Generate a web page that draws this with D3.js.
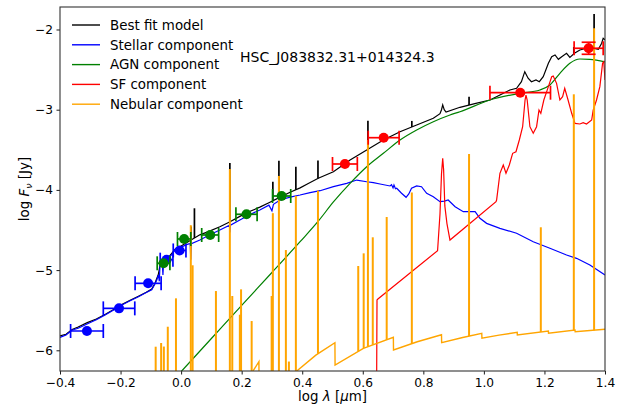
<!DOCTYPE html>
<html>
<head>
<meta charset="utf-8">
<script src="https://cdn.jsdelivr.net/npm/d3@7"></script>
<style>
  body { margin: 0; background: #fff; }
  svg { display: block; font-family: "DejaVu Sans", sans-serif; }
</style>
</head>
<body>
<div id="chart"></div>
<script>
// global constants
const WIDTH = 636;
const HEIGHT = 410;
const MARGIN = { top: 7, right: 31, bottom: 39, left: 60 };
const PLOT_W = WIDTH - MARGIN.left - MARGIN.right;
const PLOT_H = HEIGHT - MARGIN.top - MARGIN.bottom;

const X_DOMAIN = [-0.4, 1.4];
const Y_DOMAIN = [-6.258, -1.7195];
const X_TICKS = [-0.4, -0.2, 0.0, 0.2, 0.4, 0.6, 0.8, 1.0, 1.2, 1.4];
const Y_TICKS = [-6, -5, -4, -3, -2];
const OBJECT_NAME = "HSC_J083832.31+014324.3";

const LEGEND = [
  { label: "Best fit model", color: "#000000" },
  { label: "Stellar component", color: "#0000ff" },
  { label: "AGN component", color: "#008000" },
  { label: "SF component", color: "#ff0000" },
  { label: "Nebular component", color: "#ffa500" },
];

// best fit model continuum [log lambda, log Fnu]
const bestFit = [
  [-0.40, -5.82], [-0.38, -5.80], [-0.36, -5.74], [-0.34, -5.71], [-0.31, -5.655],
  [-0.28, -5.61], [-0.25, -5.55], [-0.22, -5.485], [-0.196, -5.43], [-0.17, -5.38],
  [-0.141, -5.325], [-0.115, -5.275], [-0.097, -5.235], [-0.086, -5.16], [-0.075, -5.05],
  [-0.07, -4.95], [-0.053, -4.88], [-0.037, -4.82], [-0.02, -4.74], [0.0, -4.70],
  [0.03, -4.63], [0.062, -4.56], [0.09, -4.52], [0.128, -4.46], [0.16, -4.40],
  [0.194, -4.33], [0.226, -4.27], [0.26, -4.215], [0.29, -4.16], [0.327, -4.09],
  [0.36, -4.03], [0.393, -3.975], [0.42, -3.92], [0.453, -3.855], [0.503, -3.773],
  [0.558, -3.627], [0.613, -3.502], [0.668, -3.378], [0.723, -3.274], [0.778, -3.191],
  [0.833, -3.107], [0.855, -3.05], [0.860, -3.0], [0.864, -2.94], [0.869, -3.0],
  [0.875, -3.03], [0.921, -2.97], [0.97, -2.925], [1.02, -2.879], [1.053, -2.817],
  [1.086, -2.754], [1.108, -2.733], [1.124, -2.651], [1.135, -2.526], [1.146, -2.608],
  [1.157, -2.651], [1.172, -2.63], [1.183, -2.651], [1.196, -2.589], [1.213, -2.421],
  [1.224, -2.339], [1.235, -2.318], [1.246, -2.372], [1.257, -2.339], [1.273, -2.297],
  [1.284, -2.347], [1.299, -2.297], [1.317, -2.256], [1.339, -2.234], [1.361, -2.234],
  [1.378, -2.247], [1.389, -2.172], [1.394, -2.11], [1.40, -2.13],
];

// emission line peaks seen on the best fit model [log lambda, peak]
const bestFitSpikes = [
  [0.033, -4.455], [0.044, -4.229], [0.161, -3.665], [0.303, -3.898], [0.323, -3.636],
  [0.379, -3.711], [0.452, -3.633], [0.617, -3.137], [0.762, -3.14], [0.951, -2.838],
  [1.297, -2.218], [1.364, -1.807],
];

// stellar component
const stellar = [
  [-0.40, -5.84], [-0.394, -5.83], [-0.38, -5.81], [-0.361, -5.75], [-0.34, -5.725],
  [-0.307, -5.665], [-0.28, -5.62], [-0.251, -5.56], [-0.22, -5.49], [-0.196, -5.435],
  [-0.17, -5.385], [-0.141, -5.332], [-0.115, -5.28], [-0.097, -5.245], [-0.086, -5.17],
  [-0.08, -5.12], [-0.075, -5.06], [-0.072, -5.14], [-0.070, -4.96], [-0.062, -4.93],
  [-0.060, -5.06], [-0.058, -4.91], [-0.053, -4.895], [-0.037, -4.835], [-0.020, -4.75],
  [0.002, -4.71], [0.020, -4.68], [0.030, -4.67], [0.032, -4.87], [0.034, -4.67],
  [0.062, -4.625], [0.095, -4.56], [0.128, -4.50], [0.160, -4.44], [0.161, -4.53],
  [0.163, -4.44], [0.194, -4.375], [0.226, -4.31], [0.26, -4.25], [0.29, -4.19],
  [0.30, -4.26], [0.305, -4.18], [0.327, -4.126], [0.36, -4.09], [0.393, -4.064],
  [0.426, -4.035], [0.459, -4.01], [0.503, -3.96], [0.547, -3.918], [0.580, -3.877],
  [0.613, -3.898], [0.635, -3.91], [0.657, -3.926], [0.690, -3.951], [0.695, -3.935],
  [0.700, -3.975], [0.703, -3.94], [0.708, -3.985], [0.712, -3.98], [0.728, -4.042],
  [0.743, -4.092], [0.752, -4.05], [0.761, -3.98], [0.778, -3.951], [0.794, -3.96],
  [0.811, -4.042], [0.833, -4.085], [0.855, -4.147], [0.870, -4.14], [0.882, -4.126],
  [0.905, -4.21], [0.932, -4.272], [0.971, -4.272], [0.987, -4.354], [1.009, -4.417],
  [1.053, -4.479], [1.108, -4.541], [1.163, -4.646], [1.218, -4.728], [1.273, -4.812],
  [1.306, -4.853], [1.350, -4.936], [1.40, -5.061],
];

// AGN component
const agn = [
  [-0.02, -6.35], [0.002, -6.258], [0.10, -5.853], [0.20, -5.44], [0.30, -5.03],
  [0.393, -4.646], [0.453, -4.39], [0.503, -4.15], [0.558, -3.918], [0.613, -3.711],
  [0.668, -3.544], [0.723, -3.378], [0.778, -3.253], [0.833, -3.150], [0.888, -3.066],
  [0.921, -3.025], [1.020, -2.879], [1.119, -2.796], [1.185, -2.754], [1.218, -2.692],
  [1.251, -2.546], [1.284, -2.421], [1.317, -2.368], [1.350, -2.372], [1.40, -2.405],
];

// star-forming (dust) component
const sf = [
  [0.645, -7.0], [0.647, -5.372], [0.650, -5.36], [0.847, -4.758], [0.855, -4.3],
  [0.860, -3.8], [0.864, -3.606], [0.867, -3.75], [0.871, -4.2], [0.878, -4.42],
  [0.888, -4.625], [1.040, -4.147], [1.042, -4.126], [1.053, -3.793], [1.064, -3.690],
  [1.073, -3.793], [1.084, -3.690], [1.095, -3.544], [1.106, -3.524], [1.117, -3.378],
  [1.128, -3.212], [1.136, -2.879], [1.139, -2.817], [1.143, -2.879], [1.152, -3.212],
  [1.163, -3.294], [1.174, -3.212], [1.182, -3.004], [1.188, -3.045], [1.198, -2.879],
  [1.213, -2.713], [1.224, -2.589], [1.229, -2.580], [1.240, -2.671], [1.251, -2.879],
  [1.260, -2.838], [1.267, -2.733], [1.278, -2.879], [1.290, -3.045], [1.301, -3.170],
  [1.317, -3.178], [1.328, -3.162], [1.339, -3.178], [1.356, -3.128], [1.361, -3.004],
  [1.372, -2.879], [1.383, -2.713], [1.392, -2.421], [1.396, -2.401], [1.40, -2.63],
];

// nebular continuum
const nebularCont = [
  [0.18, -6.60], [0.257, -6.142], [0.2575, -6.60], [0.382, -6.258], [0.445, -6.06],
  [0.508, -5.905], [0.5085, -6.183], [0.602, -5.975], [0.701, -5.838], [0.7015, -5.996],
  [0.78, -5.893], [0.860, -5.806], [0.8605, -5.905], [0.93, -5.84], [0.993, -5.788],
  [0.9935, -5.850], [1.05, -5.81], [1.110, -5.776], [1.1105, -5.809], [1.213, -5.759],
  [1.2135, -5.788], [1.301, -5.747], [1.3015, -5.768], [1.40, -5.738],
];

// nebular emission lines [log lambda, peak]
const nebularLines = [
  [-0.084, -5.955], [-0.066, -5.909], [-0.057, -5.953], [-0.044, -5.706], [-0.017, -5.352],
  [0.032, -4.44], [0.038, -4.94], [0.115, -5.261], [0.161, -3.74], [0.169, -5.323],
  [0.194, -5.556], [0.198, -5.24], [0.233, -5.635], [0.299, -5.323], [0.303, -4.29],
  [0.323, -3.826], [0.346, -4.75], [0.356, -6.14], [0.379, -4.076], [0.452, -4.01],
  [0.585, -4.949], [0.603, -4.791], [0.617, -3.378], [0.633, -4.591], [0.679, -4.338],
  [0.762, -4.032], [0.951, -3.552], [1.188, -4.466], [1.297, -2.808], [1.364, -1.985],
];

// photometry [log lambda, log Fnu, xerr, yerr]
const stellarPhot = [
  [-0.311, -5.759, 0.054, 0], [-0.205, -5.477, 0.052, 0], [-0.109, -5.165, 0.043, 0],
  [-0.048, -4.87, 0.021, 0], [-0.005, -4.755, 0.021, 0],
];
const agnPhot = [
  [-0.058, -4.915, 0.021, 0], [0.010, -4.612, 0.022, 0], [0.096, -4.562, 0.028, 0],
  [0.216, -4.304, 0.035, 0], [0.332, -4.076, 0.030, 0],
];
const sfPhot = [
  [0.541, -3.677, 0.041, 0], [0.669, -3.349, 0.051, 0], [1.120, -2.788, 0.100, 0],
  [1.346, -2.234, 0.048, 0.075],
];

const x = d3.scaleLinear().domain(X_DOMAIN).range([0, PLOT_W]);
const y = d3.scaleLinear().domain(Y_DOMAIN).range([PLOT_H, 0]);

// value of a curve at a given position, for the foot of a vertical line
function valueAt(curve, xv) {
  if (xv < curve[0][0] || xv > curve[curve.length - 1][0]) return Y_DOMAIN[0] - 0.5;
  for (let i = 0; i < curve.length - 1; i++) {
    const a = curve[i], b = curve[i + 1];
    if (xv >= a[0] && xv <= b[0]) {
      if (b[0] === a[0]) return Math.min(a[1], b[1]);
      return a[1] + (b[1] - a[1]) * (xv - a[0]) / (b[0] - a[0]);
    }
  }
  return Y_DOMAIN[0] - 0.5;
}

function render() {
  const svg = d3.select("#chart").append("svg")
    .attr("width", WIDTH)
    .attr("height", HEIGHT);

  svg.append("defs").append("clipPath").attr("id", "plotClip")
    .append("rect").attr("width", PLOT_W).attr("height", PLOT_H);

  const g = svg.append("g")
    .attr("transform", `translate(${MARGIN.left},${MARGIN.top})`);

  const plot = g.append("g").attr("clip-path", "url(#plotClip)");
  const line = d3.line().x((d) => x(d[0])).y((d) => y(d[1]));

  // best fit model with its line peaks
  plot.append("path").datum(bestFit)
    .attr("fill", "none").attr("stroke", "#000").attr("stroke-width", 1.2)
    .attr("d", line);
  plot.append("g").selectAll("line").data(bestFitSpikes).join("line")
    .attr("x1", (d) => x(d[0])).attr("x2", (d) => x(d[0]))
    .attr("y1", (d) => y(valueAt(bestFit, d[0])))
    .attr("y2", (d) => y(d[1]))
    .attr("stroke", "#000").attr("stroke-width", 1.7);

  plot.append("path").datum(stellar)
    .attr("fill", "none").attr("stroke", "#0000ff").attr("stroke-width", 1.2)
    .attr("d", line);

  plot.append("path").datum(agn)
    .attr("fill", "none").attr("stroke", "#008000").attr("stroke-width", 1.2)
    .attr("d", d3.line().x((d) => x(d[0])).y((d) => y(d[1])).curve(d3.curveMonotoneX));

  plot.append("path").datum(sf)
    .attr("fill", "none").attr("stroke", "#ff0000").attr("stroke-width", 1.2)
    .attr("d", line);

  // nebular continuum and lines
  plot.append("path").datum(nebularCont)
    .attr("fill", "none").attr("stroke", "#ffa500").attr("stroke-width", 1.4)
    .attr("d", line);
  plot.append("g").selectAll("line").data(nebularLines).join("line")
    .attr("x1", (d) => x(d[0])).attr("x2", (d) => x(d[0]))
    .attr("y1", (d) => y(valueAt(nebularCont, d[0])))
    .attr("y2", (d) => y(d[1]))
    .attr("stroke", "#ffa500").attr("stroke-width", 2);

  // photometry with error bars
  const CAP = 7;
  [[stellarPhot, "#0000ff"], [agnPhot, "#008000"], [sfPhot, "#ff0000"]].forEach(([pts, c]) => {
    const eg = plot.append("g").attr("stroke", c).attr("stroke-width", 1.7);
    pts.forEach((p) => {
      const cx = x(p[0]), cy = y(p[1]);
      const x0 = x(p[0] - p[2]), x1 = x(p[0] + p[2]);
      eg.append("line").attr("x1", x0).attr("x2", x1).attr("y1", cy).attr("y2", cy);
      eg.append("line").attr("x1", x0).attr("x2", x0).attr("y1", cy - CAP).attr("y2", cy + CAP);
      eg.append("line").attr("x1", x1).attr("x2", x1).attr("y1", cy - CAP).attr("y2", cy + CAP);
      if (p[3] > 0) {
        const y0 = y(p[1] - p[3]), y1 = y(p[1] + p[3]);
        eg.append("line").attr("x1", cx).attr("x2", cx).attr("y1", y0).attr("y2", y1);
        eg.append("line").attr("x1", cx - CAP).attr("x2", cx + CAP).attr("y1", y0).attr("y2", y0);
        eg.append("line").attr("x1", cx - CAP).attr("x2", cx + CAP).attr("y1", y1).attr("y2", y1);
      }
    });
    plot.append("g").selectAll("circle").data(pts).join("circle")
      .attr("cx", (d) => x(d[0])).attr("cy", (d) => y(d[1]))
      .attr("r", 5).attr("fill", c);
  });

  // axes
  const fmt = (d) => d3.format(".1f")(d).replace("-", "\u2212");
  const xAxis = g.append("g")
    .attr("transform", `translate(0,${PLOT_H})`)
    .call(d3.axisBottom(x).tickValues(X_TICKS).tickFormat(fmt).tickSize(3.5).tickPadding(3.5));
  const yAxis = g.append("g")
    .call(d3.axisLeft(y).tickValues(Y_TICKS).tickFormat((d) => String(d).replace("-", "\u2212")).tickSize(3.5).tickPadding(3.5));
  [xAxis, yAxis].forEach((a) => {
    a.select(".domain").remove();
    a.selectAll("text").attr("font-size", "12.2px").attr("font-family", "DejaVu Sans").attr("fill", "#000");
    a.selectAll("line").attr("stroke", "#000").attr("stroke-width", 0.9);
  });

  // frame
  g.append("rect")
    .attr("x", 0).attr("y", 0).attr("width", PLOT_W).attr("height", PLOT_H)
    .attr("fill", "none").attr("stroke", "#333").attr("stroke-width", 1.1);

  // axis labels
  const xl = g.append("text")
    .attr("x", PLOT_W / 2).attr("y", PLOT_H + 30)
    .attr("text-anchor", "middle").attr("font-size", "13.4px");
  xl.append("tspan").text("log ");
  xl.append("tspan").attr("font-style", "italic").text("\u03bb");
  xl.append("tspan").text(" [");
  xl.append("tspan").attr("font-style", "italic").text("\u03bc");
  xl.append("tspan").text("m]");

  const yl = g.append("text")
    .attr("transform", `translate(${-31},${PLOT_H / 2}) rotate(-90)`)
    .attr("text-anchor", "middle").attr("font-size", "13.4px");
  yl.append("tspan").text("log ");
  yl.append("tspan").attr("font-style", "italic").text("F");
  yl.append("tspan").attr("font-style", "italic").attr("font-size", "9.5px").attr("dy", 2.5).text("\u03bd");
  yl.append("tspan").attr("dy", -2.5).text(" [Jy]");

  // legend
  const lg = g.append("g").attr("transform", "translate(12,18)");
  LEGEND.forEach((d, i) => {
    const row = lg.append("g").attr("transform", `translate(0,${i * 19.8})`);
    row.append("line").attr("x1", 0).attr("x2", 28).attr("y1", 0).attr("y2", 0)
      .attr("stroke", d.color).attr("stroke-width", 1.4);
    row.append("text").attr("x", 38).attr("y", 0).attr("dy", "0.35em")
      .attr("font-size", "13.4px").text(d.label);
  });

  // object name
  g.append("text")
    .attr("x", 240 - MARGIN.left).attr("y", 50).attr("dy", "0.35em")
    .attr("font-size", "14px").text(OBJECT_NAME);
}

render();
</script>
</body>
</html>
